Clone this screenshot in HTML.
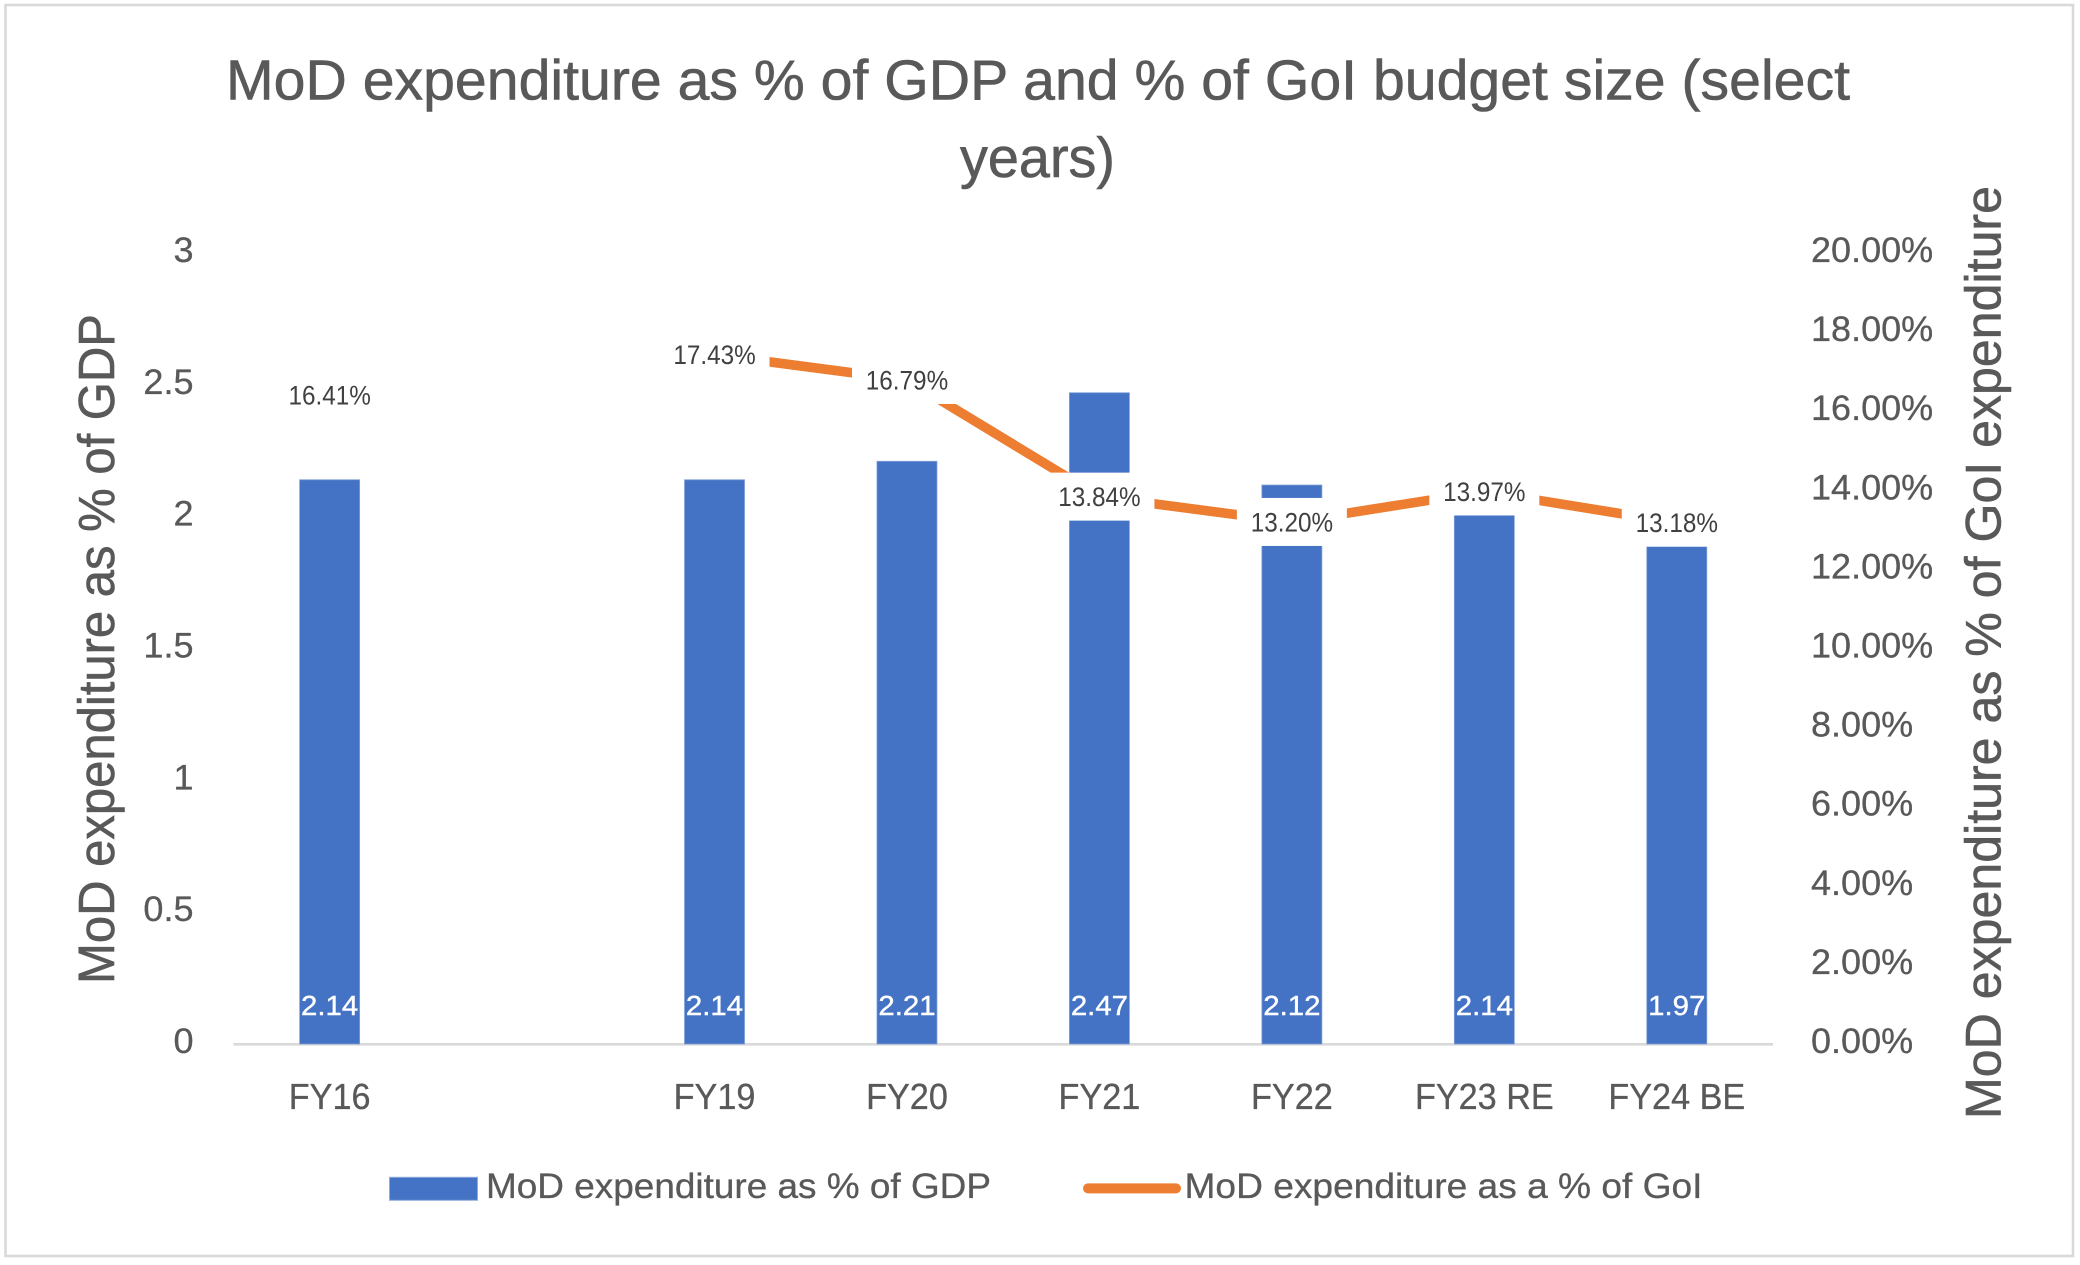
<!DOCTYPE html>
<html lang="en">
<head>
<meta charset="utf-8">
<title>MoD expenditure as % of GDP and % of GoI budget size</title>
<style>
html,body{margin:0;padding:0;background:#fff;}
svg{display:block;}
text{font-family:"Liberation Sans",sans-serif;}
.heavy{stroke:#595959;stroke-width:0.6px;}
.medium{stroke:#595959;stroke-width:0.3px;}
</style>
</head>
<body>
<svg id="chart" xmlns="http://www.w3.org/2000/svg" width="2080" height="1265" viewBox="0 0 2080 1265">
  <rect x="0" y="0" width="2080" height="1265" fill="#ffffff"/>
  <rect x="5.5" y="5" width="2067.5" height="1251" fill="#ffffff" stroke="#d9d9d9" stroke-width="2.6"/>
  <text class="heavy" x="226" y="99.5" font-size="56.6" fill="#595959" textLength="1624" lengthAdjust="spacingAndGlyphs">MoD expenditure as % of GDP and % of GoI budget size (select</text>
  <text class="heavy" x="960" y="177" font-size="56.6" fill="#595959" textLength="155" lengthAdjust="spacingAndGlyphs">years)</text>
  <text class="heavy" transform="translate(114 984) rotate(-90)" x="0" y="0" font-size="51" fill="#595959" textLength="670" lengthAdjust="spacingAndGlyphs">MoD expenditure as % of GDP</text>
  <text class="heavy" transform="translate(2000.5 1119) rotate(-90)" x="0" y="0" font-size="50" fill="#595959" textLength="933" lengthAdjust="spacingAndGlyphs">MoD expenditure as % of GoI expenditure</text>
  <g id="axis-layer"></g>
  <g id="bar-layer"></g>
  <g id="line-layer"></g>
  <g id="label-layer"></g>
  <g>
    <rect x="389.5" y="1177.3" width="88" height="23" fill="#4472c4" stroke="#8fabdd" stroke-width="1"/>
    <text class="medium" x="486" y="1198" font-size="35" fill="#595959" textLength="505" lengthAdjust="spacingAndGlyphs">MoD expenditure as % of GDP</text>
    <line x1="1088" y1="1188.4" x2="1176" y2="1188.4" stroke="#ed7d31" stroke-width="10" stroke-linecap="round"/>
    <text class="medium" x="1184.5" y="1198" font-size="35" fill="#595959" textLength="518" lengthAdjust="spacingAndGlyphs">MoD expenditure as a % of GoI</text>
  </g>
</svg>
<script>
var categories = ["FY16", "", "FY19", "FY20", "FY21", "FY22", "FY23 RE", "FY24 BE"];
var gdpBarValues = [2.14, null, 2.14, 2.21, 2.47, 2.12, 2.01, 1.89];
var gdpBarLabels = ["2.14", "", "2.14", "2.21", "2.47", "2.12", "2.14", "1.97"];
var goiLineValues = [16.41, null, 17.43, 16.79, 13.84, 13.20, 13.97, 13.18];
var leftTicks = [0, 0.5, 1, 1.5, 2, 2.5, 3];
var rightTicks = [0, 2, 4, 6, 8, 10, 12, 14, 16, 18, 20];

var NS = "http://www.w3.org/2000/svg";
var BASE_Y = 1044, PLOT_H = 791, LEFT_MAX = 3, RIGHT_MAX = 20;
var PLOT_L = 233.4, PLOT_R = 1773;
var STEP = (PLOT_R - PLOT_L) / categories.length;
var BAR_W = 60, BOX_W = 110, BOX_H = 48;

function xPos(i) { return PLOT_L + STEP * (i + 0.5); }
function yLeft(v) { return BASE_Y - v / LEFT_MAX * PLOT_H; }
function yRight(v) { return BASE_Y - v / RIGHT_MAX * PLOT_H; }

function make(tag, parent) {
  var el = document.createElementNS(NS, tag);
  parent.appendChild(el);
  return el;
}
function label(parent, x, y, str, size, fill, anchor, sx) {
  var t = make("text", parent);
  t.setAttribute("transform", "translate(" + x + " " + y + ") scale(" + sx + " 1)");
  t.setAttribute("font-size", size);
  t.setAttribute("fill", fill);
  t.setAttribute("text-anchor", anchor);
  t.textContent = str;
  return t;
}

var axisLayer = document.getElementById("axis-layer");
var barLayer = document.getElementById("bar-layer");
var lineLayer = document.getElementById("line-layer");
var labelLayer = document.getElementById("label-layer");

var baseline = make("rect", axisLayer);
baseline.setAttribute("x", PLOT_L);
baseline.setAttribute("y", BASE_Y - 1);
baseline.setAttribute("width", PLOT_R - PLOT_L);
baseline.setAttribute("height", 2.6);
baseline.setAttribute("fill", "#d9d9d9");



leftTicks.forEach(function (v) {
  var t = label(axisLayer, 193.5, yLeft(v) + 9, String(v), 35, "#595959", "end", 1.03);
  t.setAttribute("class", "medium");
  
  
});
rightTicks.forEach(function (v) {
  var t = label(axisLayer, 1811, yRight(v) + 9, v.toFixed(2) + "%", 35, "#595959", "start", 1.03);
  t.setAttribute("class", "medium");
  
  
});
categories.forEach(function (c, i) {
  if (!c) return;
  var t = label(axisLayer, xPos(i), 1109, c, 36, "#595959", "middle", 0.95);
  t.setAttribute("class", "medium");
  
  
});

gdpBarValues.forEach(function (v, i) {
  if (v === null) return;
  var r = make("rect", barLayer);
  r.setAttribute("x", xPos(i) - BAR_W / 2);
  r.setAttribute("y", yLeft(v));
  r.setAttribute("width", BAR_W);
  r.setAttribute("height", BASE_Y - yLeft(v));
  r.setAttribute("fill", "#4472c4");
  r.setAttribute("stroke", "#7f9fd8");
  r.setAttribute("stroke-width", "0.8");
  
  
});

var segment = [];
function flushSegment() {
  if (segment.length > 1) {
    var p = make("polyline", lineLayer);
    p.setAttribute("points", segment.join(" "));
    p.setAttribute("fill", "none");
    p.setAttribute("stroke", "#ed7d31");
    p.setAttribute("stroke-width", "9.6");
    p.setAttribute("stroke-linejoin", "round");
    
    
  }
  segment = [];
}
goiLineValues.forEach(function (v, i) {
  if (v === null) { flushSegment(); return; }
  segment.push(xPos(i) + "," + yRight(v));
});
flushSegment();

goiLineValues.forEach(function (v, i) {
  if (v === null) return;
  var cx = xPos(i), cy = yRight(v);
  var box = make("rect", labelLayer);
  box.setAttribute("x", cx - BOX_W / 2);
  box.setAttribute("y", cy - BOX_H / 2);
  box.setAttribute("width", BOX_W);
  box.setAttribute("height", BOX_H);
  box.setAttribute("fill", "#ffffff");
  
  
  var t = label(labelLayer, cx, cy + 9.5, v.toFixed(2) + "%", 27, "#404040", "middle", 0.9);
  
  
});

gdpBarLabels.forEach(function (s, i) {
  if (!s) return;
  var t = label(labelLayer, xPos(i), 1015, s, 28, "#ffffff", "middle", 1.05);
  t.setAttribute("stroke", "#ffffff");
  t.setAttribute("stroke-width", "0.4");
  
  
});
</script>
</body>
</html>
